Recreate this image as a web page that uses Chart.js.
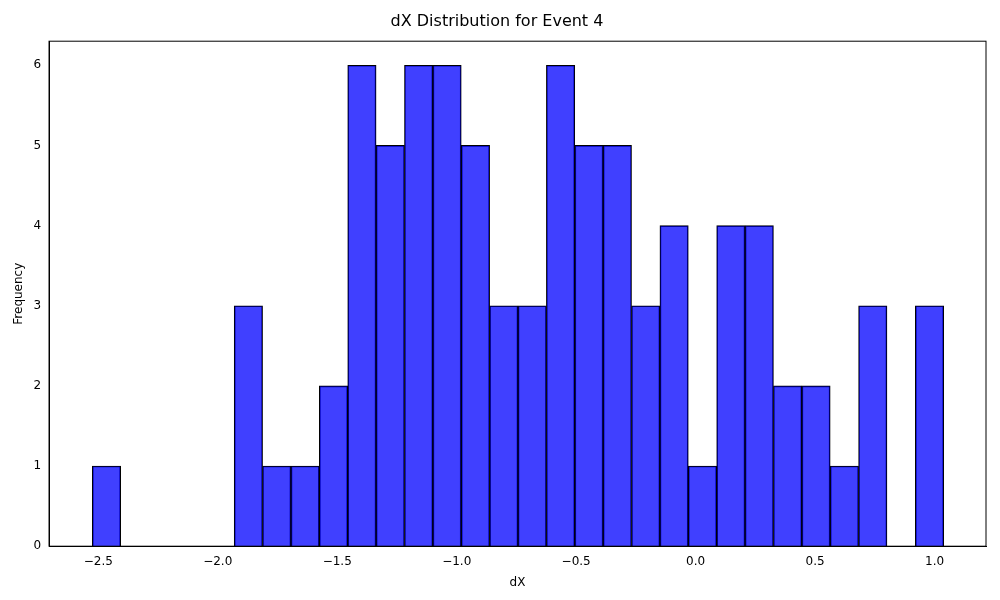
<!DOCTYPE html>
<html>
<head>
<meta charset="utf-8">
<script src="https://cdn.jsdelivr.net/npm/chart.js@4/dist/chart.umd.min.js"></script>
<style>
  body { margin: 0; background: #fff; }
  #wrap { width: 1000px; height: 600px; }
</style>
</head>
<body>
<div id="wrap"><canvas id="c"></canvas></div>
<script>
// histogram of dX, 30 bins
const binStart = -2.525;
const binWidth = 0.11877;
const counts = [1, 0, 0, 0, 0, 3, 1, 1, 2, 6, 5, 6, 6, 5, 3, 3, 6, 5, 5, 3, 4, 1, 4, 4, 2, 2, 1, 3, 0, 3];
const xTicks = [-2.5, -2.0, -1.5, -1.0, -0.5, 0.0, 0.5, 1.0];
const yTicks = [0, 1, 2, 3, 4, 5, 6];

const points = counts.map((c, i) => ({ x: binStart + (i + 0.5) * binWidth, y: c }));
const fmt = v => (v < 0 ? '\u2212' : '') + Math.abs(v).toFixed(1);
const font = { family: 'DejaVu Sans', size: 12 };

new Chart(document.getElementById('c'), {
  type: 'bar',
  data: {
    datasets: [{
      data: points,
      backgroundColor: 'rgba(0,0,255,0.75)',
      borderColor: '#000',
      borderWidth: 1,
      barPercentage: 1,
      categoryPercentage: 1,
      grouped: false
    }]
  },
  options: {
    responsive: true,
    maintainAspectRatio: false,
    animation: false,
    layout: { padding: { left: 8, right: 14, top: 4, bottom: 6 } },
    plugins: {
      legend: { display: false },
      tooltip: { enabled: false },
      title: { display: true, text: 'dX Distribution for Event 4', color: '#000',
               font: { family: 'DejaVu Sans', size: 16, weight: 'normal' }, padding: { top: 8, bottom: 10 } }
    },
    scales: {
      x: {
        type: 'linear', min: -2.706, max: 1.215, offset: false,
        afterBuildTicks: ax => { ax.ticks = xTicks.map(v => ({ value: v })); },
        ticks: { callback: v => fmt(v), color: '#000', font, maxRotation: 0 },
        grid: { display: false, drawTicks: true, tickLength: 5, tickColor: '#000' },
        border: { color: '#000' },
        title: { display: true, text: 'dX', color: '#000', font }
      },
      y: {
        min: 0, max: 6.3,
        afterBuildTicks: ax => { ax.ticks = yTicks.map(v => ({ value: v })); },
        ticks: { color: '#000', font },
        grid: { display: false, tickLength: 5, tickColor: '#000' },
        border: { color: '#000' },
        title: { display: true, text: 'Frequency', color: '#000', font }
      }
    }
  },
  plugins: [{
    id: 'frame',
    afterDraw(chart) {
      const { ctx, chartArea: a } = chart;
      ctx.save();
      ctx.strokeStyle = '#000';
      ctx.lineWidth = 1;
      ctx.strokeRect(a.left, a.top, a.right - a.left, a.bottom - a.top);
      ctx.restore();
    }
  }]
});
</script>
</body>
</html>
